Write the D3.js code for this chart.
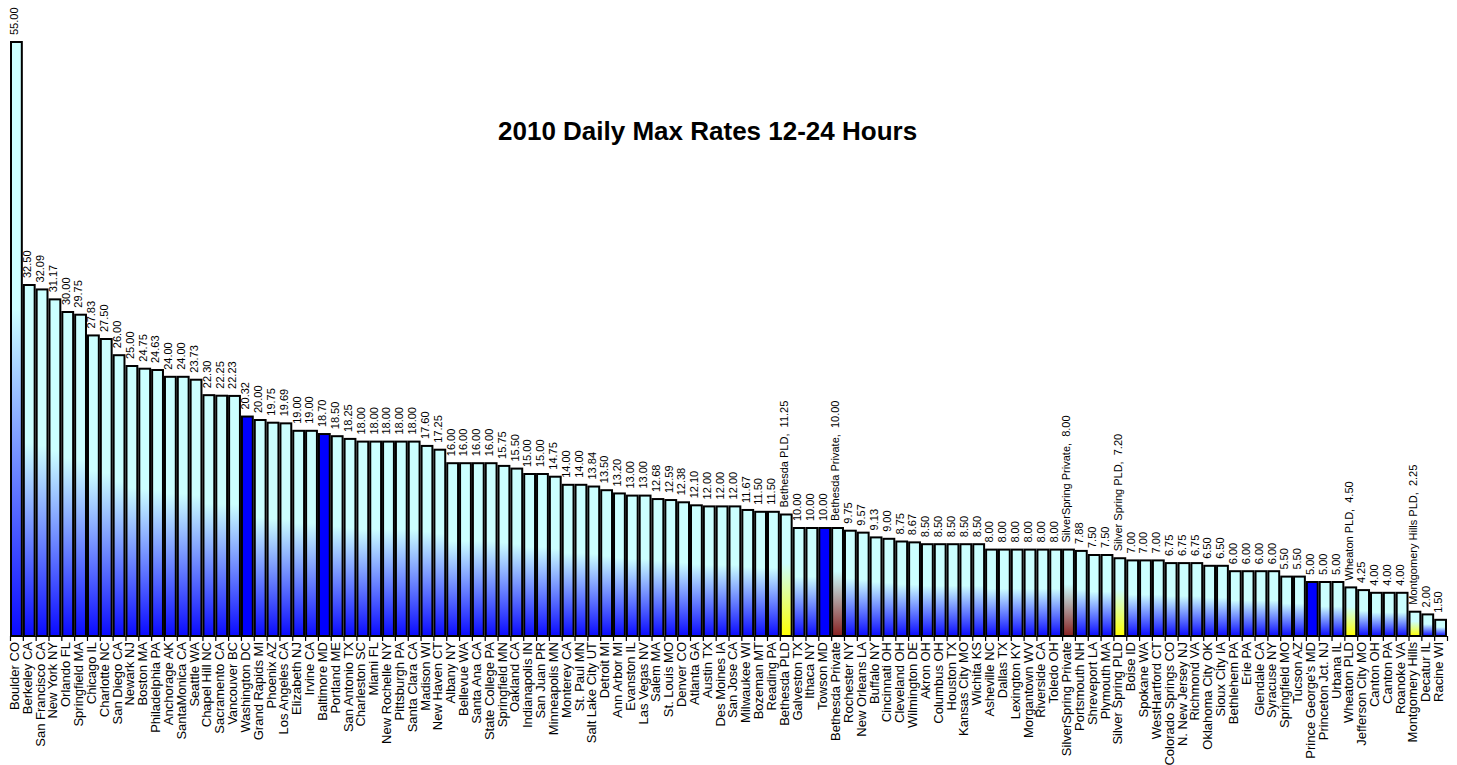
<!DOCTYPE html>
<html>
<head>
<meta charset="utf-8">
<script src="https://cdn.jsdelivr.net/npm/d3@7"></script>
<style>
  html, body { margin: 0; padding: 0; background: #ffffff; }
  svg { display: block; font-family: "Liberation Sans", Arial, sans-serif; }
</style>
</head>
<body>
<svg id="chart" width="1457" height="765"></svg>
<script>
const categories = [
  "Boulder CO","Berkeley CA","San Francisco CA","New York NY","Orlando FL","Springfield MA",
  "Chicago IL","Charlotte NC","San Diego CA","Newark NJ","Boston MA","Philadelphia PA",
  "Anchorage AK","SantaMonica CA","Seattle WA","Chapel Hill NC","Sacramento CA","Vancouver BC",
  "Washington DC","Grand Rapids MI","Phoenix AZ","Los Angeles CA","Elizabeth NJ","Irvine CA",
  "Baltimore MD","Portland ME","San Antonio TX","Charleston SC","Miami FL","New Rochelle NY",
  "Pittsburgh PA","Santa Clara CA","Madison WI","New Haven CT","Albany NY","Bellevue WA",
  "Santa Ana CA","State College PA","Springfield MN","Oakland CA","Indianapolis IN","San Juan PR",
  "Minneapolis MN","Monterey CA","St. Paul MN","Salt Lake City UT","Detroit MI","Ann Arbor MI",
  "Evanston IL","Las Vegas NV","Salem MA","St. Louis MO","Denver CO","Atlanta GA",
  "Austin TX","Des Moines IA","San Jose CA","Milwaukee WI","Bozeman MT","Reading PA",
  "Bethesda PLD","Galveston TX","Ithaca NY","Towson MD","Bethesda Private","Rochester NY",
  "New Orleans LA","Buffalo NY","Cincinnati OH","Cleveland OH","Wilmington DE","Akron OH",
  "Columbus OH","Houston TX","Kansas City MO","Wichita KS","Asheville NC","Dallas TX",
  "Lexington KY","Morgantown WV","Riverside CA","Toledo OH","SilverSpring Private","Portsmouth NH",
  "Shreveport LA","Plymouth MA","Silver Spring PLD","Boise ID","Spokane WA","WestHartford CT",
  "Colorado Springs CO","N. New Jersey NJ","Richmond VA","Oklahoma City OK","Sioux City IA","Bethlehem PA",
  "Erie PA","Glendale CA","Syracuse NY","Springfield MO","Tucson AZ","Prince George's MD",
  "Princeton Jct. NJ","Urbana IL","Wheaton PLD","Jefferson City MO","Canton OH","Canton PA",
  "Roanoke VA","Montgomery Hills","Decatur IL","Racine WI"
];

const rates = [
  55.00,32.50,32.09,31.17,30.00,29.75,
  27.83,27.50,26.00,25.00,24.75,24.63,
  24.00,24.00,23.73,22.30,22.25,22.23,
  20.32,20.00,19.75,19.69,19.00,19.00,
  18.70,18.50,18.25,18.00,18.00,18.00,
  18.00,18.00,17.60,17.25,16.00,16.00,
  16.00,16.00,15.75,15.50,15.00,15.00,
  14.75,14.00,14.00,13.84,13.50,13.20,
  13.00,13.00,12.68,12.59,12.38,12.10,
  12.00,12.00,12.00,11.67,11.50,11.50,
  11.25,10.00,10.00,10.00,10.00,9.75,
  9.57,9.13,9.00,8.75,8.67,8.50,
  8.50,8.50,8.50,8.50,8.00,8.00,
  8.00,8.00,8.00,8.00,8.00,7.88,
  7.50,7.50,7.20,7.00,7.00,7.00,
  6.75,6.75,6.75,6.50,6.50,6.00,
  6.00,6.00,6.00,5.50,5.50,5.00,
  5.00,5.00,4.50,4.25,4.00,4.00,
  4.00,2.25,2.00,1.50
];

// Maryland comparison groups
const marylandCities = ["Washington DC","Baltimore MD","Towson MD","Prince George's MD"];
const publicLots = ["Bethesda PLD","Silver Spring PLD","Wheaton PLD","Montgomery Hills"];
const privateLots = ["Bethesda Private","SilverSpring Private"];
const calloutNames = ["Bethesda PLD","Bethesda Private","SilverSpring Private","Silver Spring PLD","Wheaton PLD","Montgomery Hills PLD"];
const calloutCats  = ["Bethesda PLD","Bethesda Private","SilverSpring Private","Silver Spring PLD","Wheaton PLD","Montgomery Hills"];

const titleText = "2010 Daily Max Rates 12-24 Hours";

const svg = d3.select("#chart");
const left = 10, right = 1447, baseY = 636, topY = 42;

const x = d3.scaleBand().domain(categories).range([left, right]).paddingInner(0).paddingOuter(0);
const xi = d3.scaleLinear().domain([0, categories.length]).range([left, right]);
const y = d3.scaleLinear().domain([0, 55]).range([baseY, topY]);

// gradients
const defs = svg.append("defs");
function grad(id, bottom, mid) {
  const g = defs.append("linearGradient").attr("id", id)
    .attr("x1", 0).attr("y1", 0).attr("x2", 0).attr("y2", 1);
  g.append("stop").attr("offset", "0%").attr("stop-color", "#ccffff");
  g.append("stop").attr("offset", mid).attr("stop-color", "#ccffff");
  g.append("stop").attr("offset", "100%").attr("stop-color", bottom);
}
grad("gBlue", "#0a0aff", "45%");
grad("gYellow", "#ffff00", "40%");
grad("gBrown", "#882020", "40%");

const data = categories.map((c, i) => ({ c, v: rates[i] }));

function fillFor(c) {
  if (marylandCities.includes(c)) return "#0000ff";
  if (publicLots.includes(c)) return "url(#gYellow)";
  if (privateLots.includes(c)) return "url(#gBrown)";
  return "url(#gBlue)";
}

svg.append("g").selectAll("rect").data(data).join("rect")
  .attr("x", d => x(d.c) + 1)
  .attr("y", d => y(d.v))
  .attr("width", x.bandwidth() - 2)
  .attr("height", d => y(0) - y(d.v))
  .attr("fill", d => fillFor(d.c))
  .attr("stroke", "#000")
  .attr("stroke-width", 2);

// x axis: line + boundary ticks
const tickAxis = d3.axisBottom(xi).tickValues(d3.range(0, categories.length + 1))
  .tickSize(5).tickSizeOuter(0).tickFormat("");
const gt = svg.append("g").attr("transform", `translate(0,${baseY})`).call(tickAxis);
gt.selectAll("path, line").attr("stroke", "#000").attr("stroke-width", 1.2);

// category labels via band axis
const labAxis = d3.axisBottom(x).tickSize(0).tickSizeOuter(0);
const gl = svg.append("g").attr("transform", `translate(0,${baseY})`).call(labAxis);
gl.select(".domain").remove();
gl.selectAll("text")
  .attr("font-family", "'Liberation Sans', Arial, sans-serif")
  .attr("font-size", 13)
  .attr("fill", "#000")
  .attr("text-anchor", "end")
  .attr("y", 0).attr("dy", "0.35em")
  .attr("transform", "translate(-2,6) rotate(-90)")
  .attr("x", 0);

// value labels
svg.append("g").selectAll("text").data(data).join("text")
  .attr("transform", d => `translate(${x(d.c) + x.bandwidth() / 2 - 2},${y(d.v) - 7}) rotate(-90)`)
  .attr("dy", "0.35em")
  .attr("text-anchor", "start")
  .attr("font-size", 11)
  .attr("fill", "#000")
  .style("white-space", "pre")
  .text(d => {
    const k = calloutCats.indexOf(d.c);
    const s = d.v.toFixed(2);
    return k >= 0 ? `${calloutNames[k]},  ${s}` : s;
  });

// title
svg.append("text")
  .attr("x", 498).attr("y", 140)
  .attr("font-size", 26).attr("font-weight", "bold")
  .attr("fill", "#000")
  .text(titleText);
</script>
</body>
</html>
